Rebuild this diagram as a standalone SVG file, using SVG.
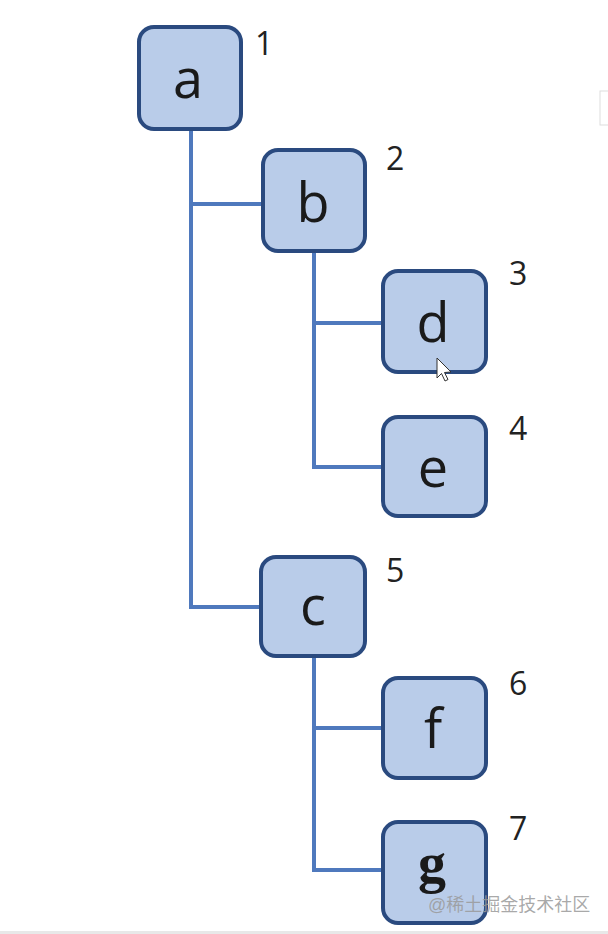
<svg xmlns="http://www.w3.org/2000/svg" width="608" height="934" viewBox="0 0 608 934">
<style>
.box{fill:#b9cce9;stroke:#2a4a7f;stroke-width:4}
.lbl{font-family:"Open Sans","Liberation Sans",sans-serif;font-size:54px;fill:#1a1a1a;text-anchor:middle}
.num{font-family:"Open Sans","Liberation Sans",sans-serif;font-size:32px;fill:#222}
.ln{fill:none;stroke:#4f79bd;stroke-width:4}
</style>
<rect width="608" height="934" fill="#ffffff"/>
<rect x="600" y="91" width="12" height="34" fill="none" stroke="#dddddd" stroke-width="1"/>
<g id="connectors">
<path class="ln" d="M191,131 V607 H259"/>
<path class="ln" d="M191,204 H262"/>
<path class="ln" d="M314,253 V467 H382"/>
<path class="ln" d="M314,323 H382"/>
<path class="ln" d="M314,658 V870 H382"/>
<path class="ln" d="M314,728 H382"/>
</g>
<g id="node-a"><rect class="box" x="139" y="27" width="102" height="102" rx="15"/><text class="lbl" x="188" y="98">a</text><text class="num" x="255" y="55">1</text></g>
<g id="node-b"><rect class="box" x="263" y="150" width="102" height="101" rx="15"/><text class="lbl" x="313" y="222">b</text><text class="num" x="386" y="170">2</text></g>
<g id="node-d"><rect class="box" x="383" y="271" width="103" height="101" rx="15"/><text class="lbl" x="433" y="342">d</text><text class="num" x="509" y="285">3</text></g>
<g id="node-e"><rect class="box" x="383" y="417" width="103" height="99" rx="15"/><text class="lbl" x="433" y="487">e</text><text class="num" x="509" y="440">4</text></g>
<g id="node-c"><rect class="box" x="261" y="557" width="104" height="99" rx="15"/><text class="lbl" x="313" y="625">c</text><text class="num" x="386" y="582">5</text></g>
<g id="node-f"><rect class="box" x="383" y="678" width="103" height="100" rx="15"/><text class="lbl" x="433" y="748">f</text><text class="num" x="509" y="695">6</text></g>
<g id="node-g"><rect class="box" x="383" y="822" width="103" height="101" rx="15"/><text x="432" y="882" font-family="'Liberation Serif',serif" font-size="56" font-weight="bold" fill="#1a1a1a" text-anchor="middle">g</text><text class="num" x="509" y="840">7</text></g>
<path d="M437,358 L437,378 L441.5,373.5 L445,381 L448,379.5 L444.5,372.5 L451,372 Z" fill="#ffffff" stroke="#333" stroke-width="1"/>
<text x="428" y="911" font-family="'Liberation Sans','Noto Sans CJK SC',sans-serif" font-size="18" fill="#9a9a9a" fill-opacity="0.85">@稀土掘金技术社区</text>
<rect x="0" y="931" width="608" height="3" fill="#e8e8e8"/>
</svg>
